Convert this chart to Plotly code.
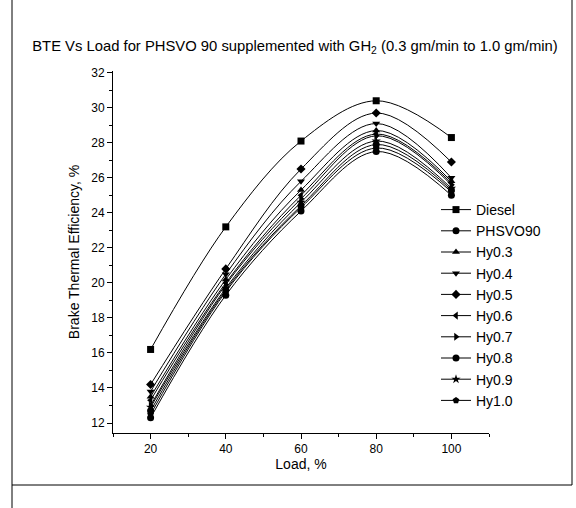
import plotly.graph_objects as go

loads = [20, 40, 60, 80, 100]
series_names = ["Diesel", "PHSVO90", "Hy0.3", "Hy0.4", "Hy0.5", "Hy0.6", "Hy0.7", "Hy0.8", "Hy0.9", "Hy1.0"]
diesel = [16.2, 23.2, 28.1, 30.4, 28.3]
phsvo90 = [12.3, 19.3, 24.1, 27.5, 25.0]
hy03 = [13.5, 20.2, 25.3, 28.7, 25.8]
hy04 = [13.8, 20.5, 25.8, 29.1, 26.0]
hy05 = [14.2, 20.8, 26.5, 29.7, 26.9]
hy06 = [13.3, 20.0, 25.0, 28.5, 25.7]
hy07 = [13.0, 19.9, 24.8, 28.4, 25.6]
hy08 = [12.7, 19.6, 24.4, 27.9, 25.3]
hy09 = [12.9, 19.7, 24.6, 28.1, 25.4]
hy10 = [12.5, 19.5, 24.3, 27.7, 25.2]
all_values = [diesel, phsvo90, hy03, hy04, hy05, hy06, hy07, hy08, hy09, hy10]
symbols = ["square", "circle", "triangle-up", "triangle-down", "diamond",
           "triangle-left", "triangle-right", "circle", "star", "pentagon"]

FONT = "Arial, Liberation Sans, sans-serif"

fig = go.Figure()
for name, vals, sym in zip(series_names, all_values, symbols):
    fig.add_trace(go.Scatter(
        x=loads, y=vals, name=name, mode="lines+markers",
        line=dict(color="black", width=1, shape="spline", smoothing=1.0),
        marker=dict(symbol=sym, size=7, color="black"),
    ))

W, H = 576, 508
L, R, T, B = 113, 87, 71, 75
pw, ph = W - L - R, H - T - B

def px(x):
    return (x - L) / pw

def py(y):
    return (H - B - y) / ph

fig.update_layout(
    width=W, height=H,
    margin=dict(l=L, r=R, t=T, b=B, autoexpand=False),
    paper_bgcolor="white", plot_bgcolor="white",
    font=dict(family=FONT, color="black", size=12),
    title=dict(text="BTE Vs Load for PHSVO 90 supplemented with GH<sub>2</sub> (0.3 gm/min to 1.0 gm/min)",
               x=295 / W, xanchor="center", y=1 - 46 / H, yanchor="middle",
               font=dict(family=FONT, size=14.8, color="black")),
    showlegend=True,
    legend=dict(x=px(436), xanchor="left", y=py(194), yanchor="top",
                bgcolor="rgba(0,0,0,0)", font=dict(family=FONT, size=14),
                tracegroupgap=0, itemwidth=30),
    xaxis=dict(range=[10, 110], tickvals=[20, 40, 60, 80, 100], automargin=False,
               showline=True, linecolor="black", linewidth=1,
               ticks="outside", ticklen=5, tickcolor="black",
               minor=dict(tickvals=[10, 30, 50, 70, 90, 110], ticks="outside", ticklen=3, tickcolor="black"),
               showgrid=False, zeroline=False,
               title=dict(text="Load, %", font=dict(family=FONT, size=14), standoff=2)),
    yaxis=dict(range=[11.43, 32.1], tickvals=list(range(12, 33, 2)), automargin=False,
               showline=True, linecolor="black", linewidth=1,
               ticks="outside", ticklen=5, tickcolor="black",
               minor=dict(tickvals=list(range(13, 32, 2)), ticks="outside", ticklen=3, tickcolor="black"),
               showgrid=False, zeroline=False,
               title=dict(text="Brake Thermal Efficiency, %", font=dict(family=FONT, size=14), standoff=8)),
    shapes=[
        dict(type="line", xref="paper", yref="paper", x0=px(12), x1=px(12), y0=py(0), y1=py(508),
             line=dict(color="black", width=1)),
        dict(type="line", xref="paper", yref="paper", x0=px(572), x1=px(572), y0=py(0), y1=py(485),
             line=dict(color="black", width=1)),
        dict(type="line", xref="paper", yref="paper", x0=px(12), x1=px(572), y0=py(485), y1=py(485),
             line=dict(color="black", width=1)),
    ],
)

fig.write_html("out.html", config={"displayModeBar": False},
               post_script="document.body.style.margin='0px';document.body.style.overflow='hidden';")
